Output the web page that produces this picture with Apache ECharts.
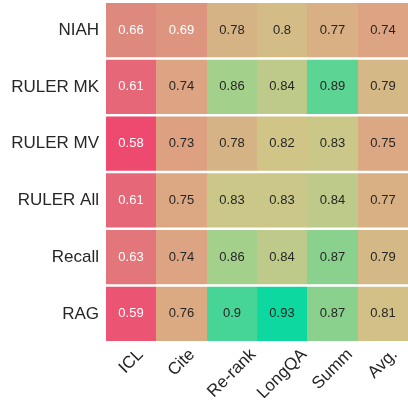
<!DOCTYPE html>
<html>
<head>
<meta charset="utf-8">
<script src="https://cdn.jsdelivr.net/npm/echarts@6/dist/echarts.min.js"></script>
<style>
  html, body { margin: 0; padding: 0; background: #fff; }
  #chart { width: 408px; height: 400px; }
</style>
</head>
<body>
<div id="chart"></div>
<script>
var tasks = ['ICL', 'Cite', 'Re-rank', 'LongQA', 'Summ', 'Avg.'];
var metrics = ['NIAH', 'RULER MK', 'RULER MV', 'RULER All', 'Recall', 'RAG'];

var niah     = [0.66, 0.69, 0.78, 0.8, 0.77, 0.74];
var rulerMK  = [0.61, 0.74, 0.86, 0.84, 0.89, 0.79];
var rulerMV  = [0.58, 0.73, 0.78, 0.82, 0.83, 0.75];
var rulerAll = [0.61, 0.75, 0.83, 0.83, 0.84, 0.77];
var recall   = [0.63, 0.74, 0.86, 0.84, 0.87, 0.79];
var rag      = [0.59, 0.76, 0.9, 0.93, 0.87, 0.81];

var rowsData = [niah, rulerMK, rulerMV, rulerAll, recall, rag];

var FONT = '"Liberation Sans", Arial, sans-serif';
var INK = '#262626';

// heatmap cells: [col, row, value]
var cells = [];
rowsData.forEach(function (row, r) {
  row.forEach(function (v, c) {
    cells.push([c, r, v]);
  });
});

// rotated x labels: centred on the tick, tops lined up (like matplotlib).
// the shift down is split into a move along the text (right padding)
// and a move across it (taller line box)
var ctx = document.createElement('canvas').getContext('2d');
ctx.font = '17px ' + FONT;
var widths = tasks.map(function (t) { return ctx.measureText(t).width; });
var wMin = Math.min.apply(null, widths);
var L0 = 17;
var xData = tasks.map(function (t, i) {
  var k = L0 + (widths[i] - wMin) * 0.5;
  return {
    value: t,
    textStyle: { align: 'center', verticalAlign: 'top', lineHeight: k, padding: [0, k, 0, 0] }
  };
});

var myChart = echarts.init(document.getElementById('chart'));

var option = {
  backgroundColor: '#fff',
  animation: false,
  grid: { left: 106, right: 0, top: 1.75, height: 340.5, outerBoundsMode: 'none', containLabel: false },
  xAxis: {
    type: 'category',
    data: xData,
    axisLine: { show: false },
    axisTick: { show: false },
    splitLine: { show: false },
    axisLabel: {
      rotate: 45,
      margin: 7,
      fontSize: 17,
      fontFamily: FONT,
      color: INK,
      interval: 0,
      hideOverlap: false
    }
  },
  yAxis: {
    type: 'category',
    data: metrics,
    inverse: true,
    axisLine: { show: false },
    axisTick: { show: false },
    splitLine: { show: false },
    axisLabel: {
      margin: 7,
      fontSize: 17,
      fontFamily: FONT,
      color: INK
    }
  },
  visualMap: {
    show: false,
    type: 'continuous',
    dimension: 2,
    min: 0.58,
    max: 0.93,
    inRange: {
      color: ['#ee4a70', '#e56c78', '#dd847d', '#dd9480', '#de9e82', '#dca883',
              '#d4b885', '#d0c687', '#a3d08b', '#50d596', '#0cd89f']
    }
  },
  series: [{
    type: 'custom',
    data: cells,
    encode: { x: 0, y: 1 },
    renderItem: function (params, api) {
      var v = api.value(2);
      var p = api.coord([api.value(0), api.value(1)]);
      var s = api.size([1, 1]);
      var gap = 1.25;
      var x0 = Math.round(p[0] - s[0] / 2);
      var x1 = Math.round(p[0] + s[0] / 2);
      return {
        type: 'rect',
        shape: { x: x0, y: p[1] - s[1] / 2 + gap, width: x1 - x0, height: s[1] - 2 * gap },
        style: { fill: api.visual('color') },
        textContent: {
          style: {
            text: String(v),
            fill: v < 0.7 ? '#fff' : INK,
            fontSize: 13,
            fontFamily: FONT
          }
        },
        textConfig: { position: 'inside' }
      };
    }
  }]
};

myChart.setOption(option);
</script>
</body>
</html>
